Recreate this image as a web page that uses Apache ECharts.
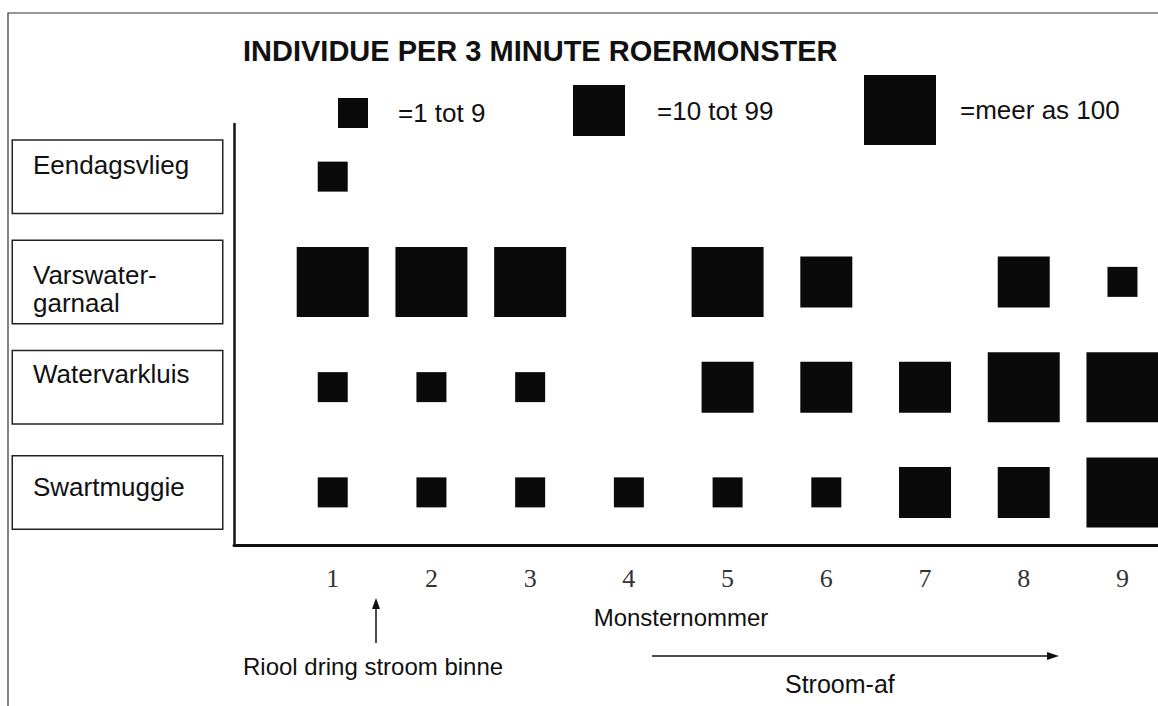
<!DOCTYPE html>
<html>
<head>
<meta charset="utf-8">
<script src="https://cdn.jsdelivr.net/npm/echarts@6/dist/echarts.min.js"></script>
<style>
html,body{margin:0;padding:0;background:#fff;}
#chart{width:1158px;height:706px;}
</style>
</head>
<body>
<div id="chart"></div>
<script>
// ---- data ----
const titleText = 'INDIVIDUE PER 3 MINUTE ROERMONSTER';
const xLabels = ['1', '2', '3', '4', '5', '6', '7', '8', '9'];
const categories = ['Eendagsvlieg', 'Varswater-\ngarnaal', 'Watervarkluis', 'Swartmuggie'];
const sizeClassNames = ['=1 tot 9', '=10 tot 99', '=meer as 100'];
// size class per sample: 0 = none, 1 = 1-9, 2 = 10-99, 3 = >100
const eendagsvlieg      = [1, 0, 0, 0, 0, 0, 0, 0, 0];
const varswaterGarnaal  = [3, 3, 3, 0, 3, 2, 0, 2, 1];
const watervarkluis     = [1, 1, 1, 0, 2, 2, 2, 3, 3];
const swartmuggie       = [1, 1, 1, 1, 1, 1, 2, 2, 3];
const xAxisName = 'Monsternommer';
const noteInflow = 'Riool dring stroom binne';
const noteDownstream = 'Stroom-af';

// ---- build ----
const rows = [eendagsvlieg, varswaterGarnaal, watervarkluis, swartmuggie];
const symbolSizes = [[30, 30], [52, 51], [72, 70]];
const FONT = "'Liberation Sans', Arial, sans-serif";
const INK = '#0a0a0a';

const series = sizeClassNames.map((name, k) => {
  const data = [];
  rows.forEach((row, r) => {
    row.forEach((cls, i) => {
      if (cls === k + 1) data.push([Number(xLabels[i]), categories[r]]);
    });
  });
  return {
    name: name,
    type: 'scatter',
    symbol: 'rect',
    symbolSize: symbolSizes[k],
    itemStyle: { color: INK, opacity: 1 },
    silent: true,
    emphasis: { disabled: true },
    data: data
  };
});

const legendPads = [[6, 0, 0, 25], [0, 0, 10, 27], [0, 0, 20, 19]];
const legendPos = [[338, 97], [573, 85], [864, 75]];
const legends = sizeClassNames.map((name, k) => ({
  data: [name],
  left: legendPos[k][0],
  top: legendPos[k][1],
  padding: 0,
  icon: 'rect',
  itemWidth: symbolSizes[k][0],
  itemHeight: symbolSizes[k][1],
  selectedMode: false,
  textStyle: {
    fontFamily: FONT, fontSize: 26, color: '#111', lineHeight: 26,
    padding: legendPads[k]
  }
}));

// label boxes: spacer lines above / below the name put it near the top of its box
const spaceAbove = [10, 20, 9, 17];
const spaceBelow = [34, 6, 35, 27];
const rich = { t: { fontFamily: FONT, fontSize: 26, color: '#111', lineHeight: 28 } };
spaceAbove.forEach((h, i) => {
  rich['a' + i] = { fontSize: 1, lineHeight: h };
  rich['b' + i] = { fontSize: 1, lineHeight: spaceBelow[i] };
});

const chart = echarts.init(document.getElementById('chart'), null, { renderer: 'svg' });
chart.setOption({
  animation: false,
  backgroundColor: '#fff',
  title: {
    text: titleText,
    left: 243, top: 36, padding: 0,
    textStyle: { fontFamily: FONT, fontSize: 29, fontWeight: 'bold', color: '#111' }
  },
  legend: legends,
  grid: { left: 234, right: 0, top: 124, bottom: 161, containLabel: false, outerBoundsMode: 'none' },
  xAxis: {
    type: 'value',
    min: 0, max: 9.36, interval: 1,
    axisLine: { show: true, lineStyle: { color: '#111', width: 3 } },
    axisTick: { show: false },
    splitLine: { show: false },
    axisLabel: {
      margin: 20,
      fontFamily: "'Liberation Serif', 'Times New Roman', serif",
      fontSize: 26, color: '#333',
      showMaxLabel: false,
      formatter: function (v) {
        return (Number.isInteger(v) && v >= 1 && v <= xLabels.length) ? xLabels[v - 1] : '';
      }
    },
    name: xAxisName,
    nameLocation: 'middle',
    nameGap: 60,
    nameTextStyle: { fontFamily: FONT, fontSize: 24, color: '#111', padding: [0, 30, 0, 0] }
  },
  yAxis: {
    type: 'category',
    inverse: true,
    data: categories,
    axisLine: { show: true, lineStyle: { color: '#111', width: 2.5 } },
    axisTick: { show: false },
    splitLine: { show: false },
    axisLabel: {
      interval: 0,
      margin: 221,
      align: 'left',
      verticalAlign: 'middle',
      width: 189,
      padding: [0, 0, 0, 20],
      backgroundColor: '#fff',
      borderColor: '#222', borderWidth: 1.5,
      fontFamily: FONT, fontSize: 26, color: '#111',
      rich: rich,
      formatter: function (value, index) {
        const body = value.split('\n').map(s => '{t|' + s + '}').join('\n');
        return '{a' + index + '| }\n' + body + '\n{b' + index + '| }';
      }
    }
  },
  graphic: [
    { type: 'rect', z: -10, silent: true,
      shape: { x: 8, y: 13, width: 1300, height: 900 },
      style: { fill: 'none', stroke: '#333', lineWidth: 1.2 } },
    { type: 'line', silent: true,
      shape: { x1: 376, y1: 643, x2: 376, y2: 605 },
      style: { stroke: '#111', lineWidth: 1.5 } },
    { type: 'polygon', silent: true,
      shape: { points: [[376, 598], [372, 609], [380, 609]] },
      style: { fill: '#111' } },
    { type: 'text', silent: true,
      style: { text: noteInflow, x: 243, y: 666, fontFamily: FONT, fontSize: 24, fill: '#111',
               align: 'left', verticalAlign: 'middle' } },
    { type: 'line', silent: true,
      shape: { x1: 652, y1: 656, x2: 1050, y2: 656 },
      style: { stroke: '#111', lineWidth: 1.5 } },
    { type: 'polygon', silent: true,
      shape: { points: [[1059, 656], [1047, 652], [1047, 660]] },
      style: { fill: '#111' } },
    { type: 'text', silent: true,
      style: { text: noteDownstream, x: 785, y: 684, fontFamily: FONT, fontSize: 25, fill: '#111',
               align: 'left', verticalAlign: 'middle' } }
  ],
  series: series
});
</script>
</body>
</html>
